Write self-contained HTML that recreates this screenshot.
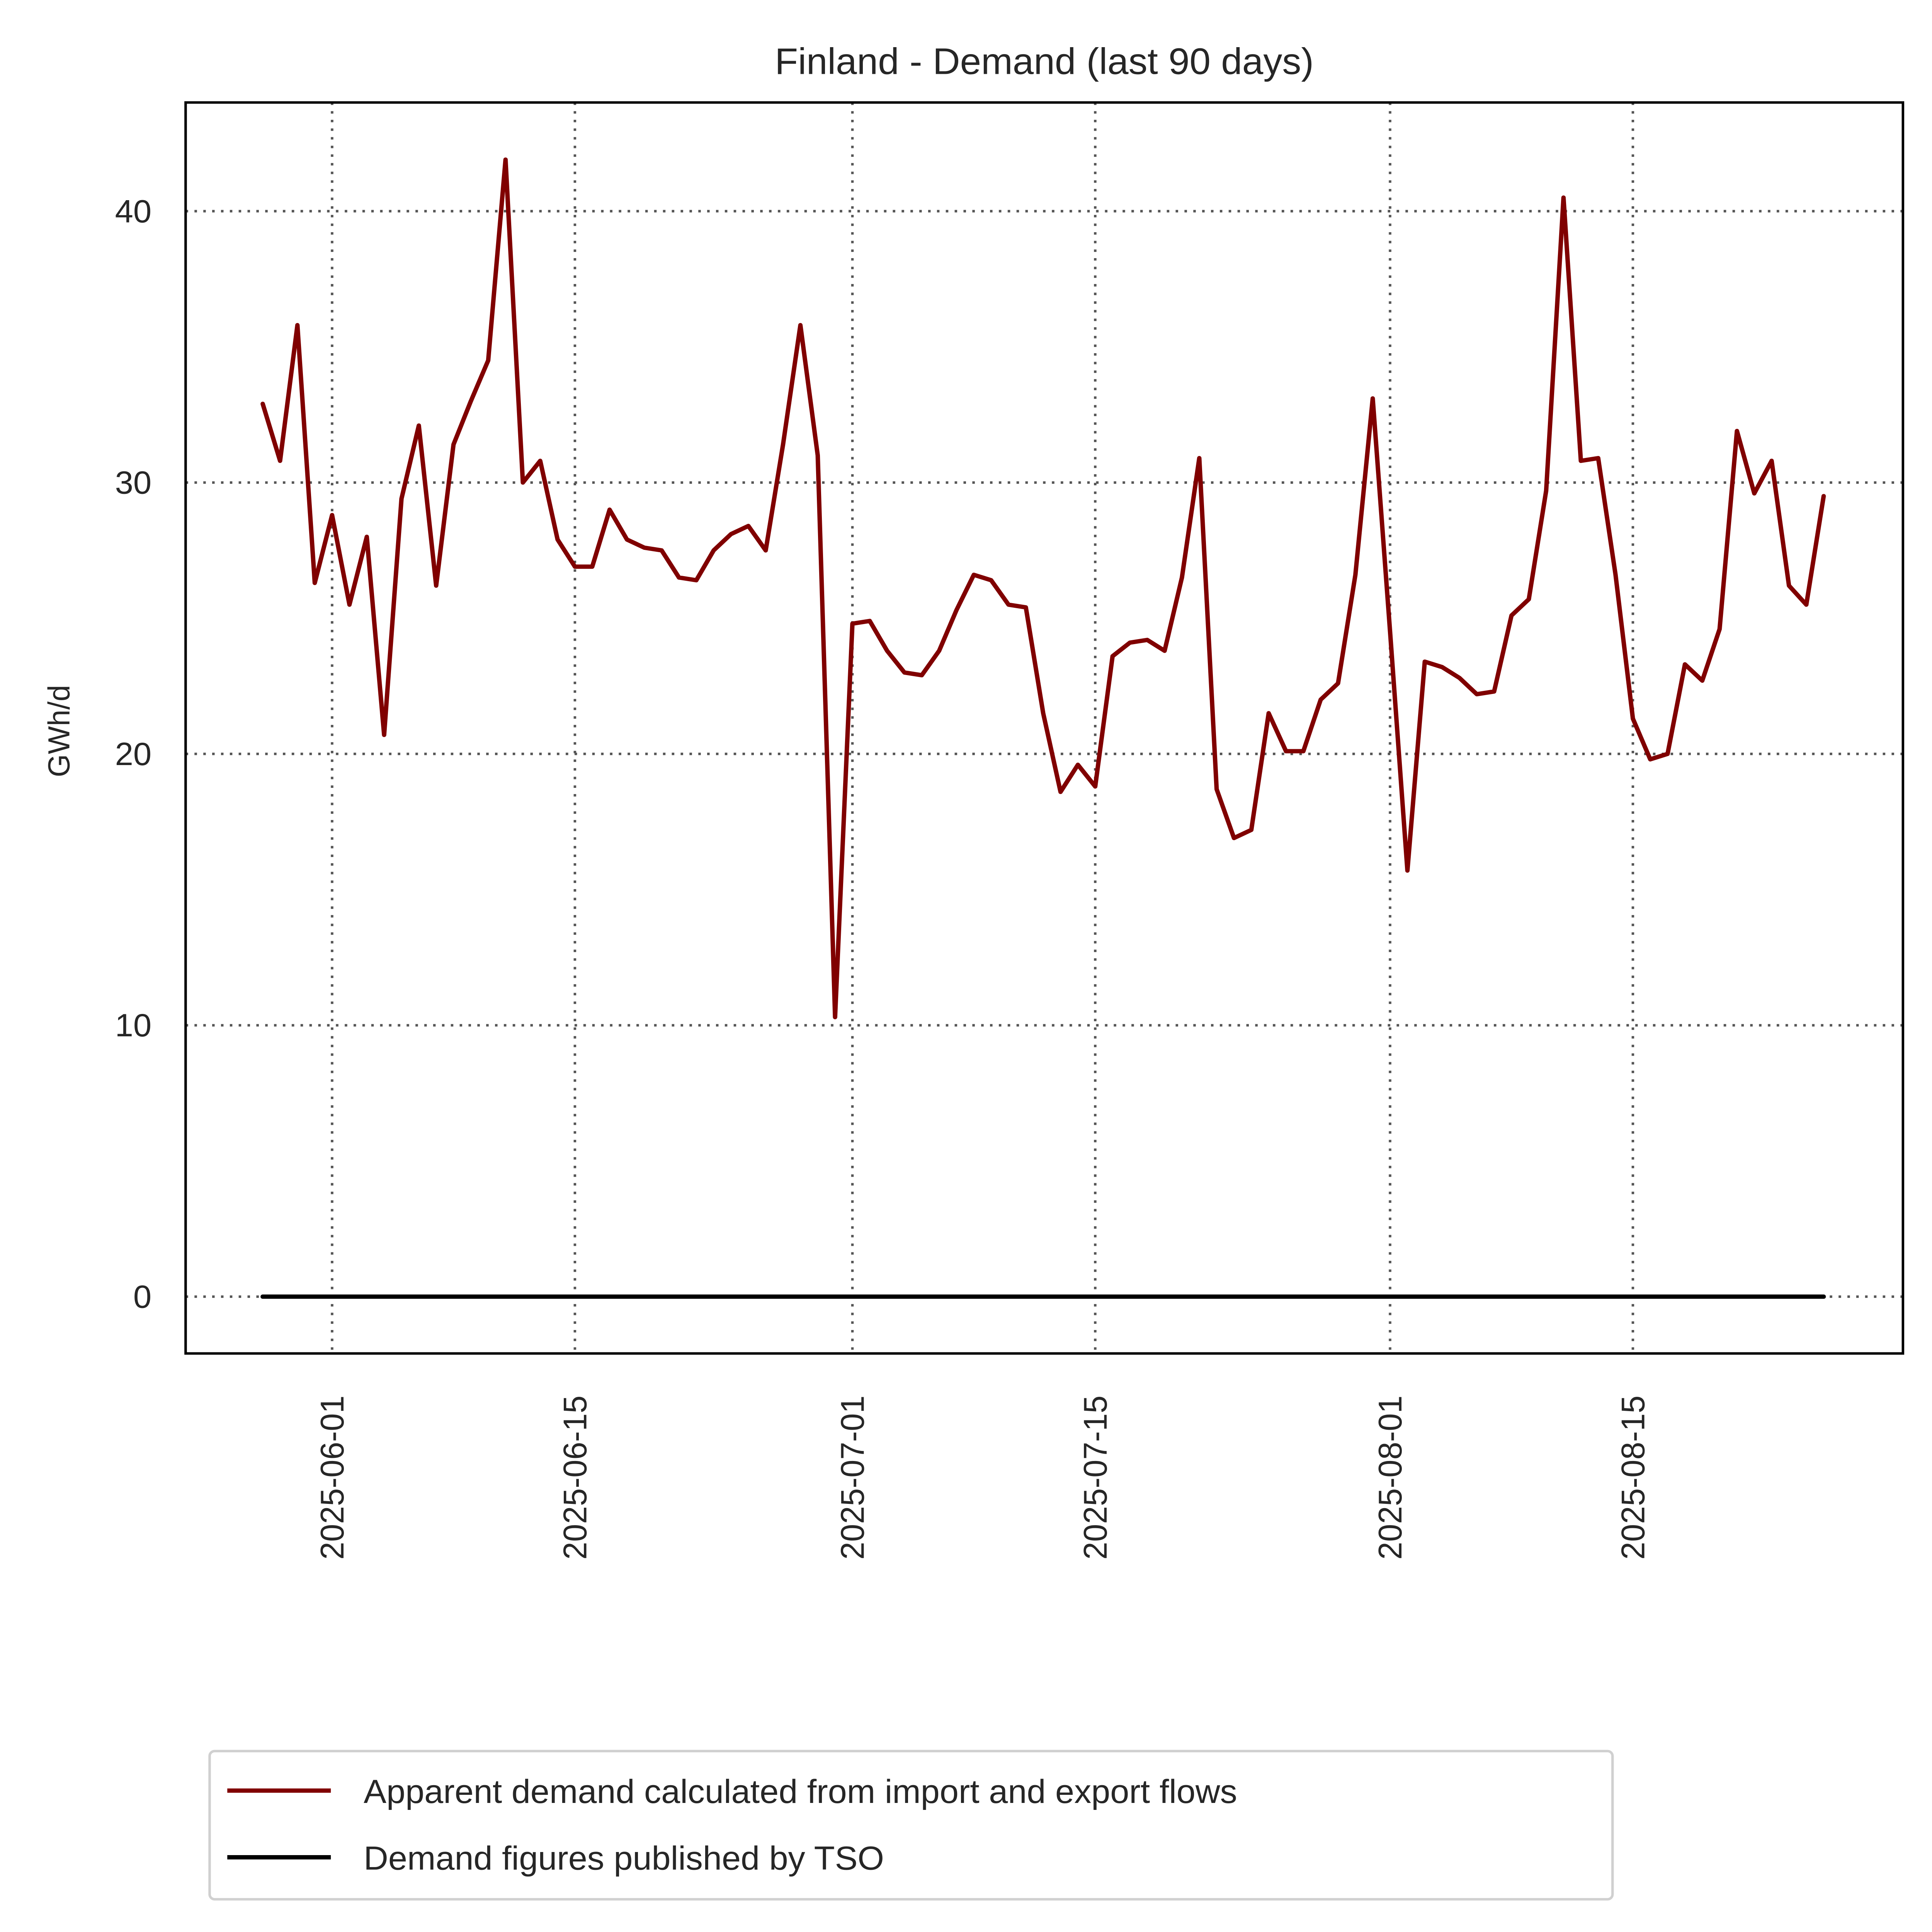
<!DOCTYPE html>
<html><head><meta charset="utf-8"><style>
html,body{margin:0;padding:0;background:#fff;width:100%;height:100%;overflow:hidden}
svg{display:block;position:fixed;left:0;top:0;width:100vw;height:100vh}
text{font-family:"Liberation Sans","DejaVu Sans",sans-serif;fill:#262626}
</style></head><body>
<svg id="chart" viewBox="0 0 1530 1564.5" preserveAspectRatio="none" xmlns="http://www.w3.org/2000/svg">
<rect x="0" y="0" width="1530" height="1565" fill="#fff"/>
<text x="827" y="60" font-size="30" text-anchor="middle">Finland - Demand (last 90 days)</text>
<g id="grid"></g>
<g id="series"></g>
<rect x="147" y="83" width="1360" height="1013" fill="none" stroke="#000" stroke-width="2"/>
<g id="yticks"></g>
<g id="xticks"></g>
<text transform="translate(55,592) rotate(-90)" font-size="24" text-anchor="middle">GWh/d</text>
<g>
<rect x="166" y="1418" width="1111" height="120" rx="4" fill="#fff" stroke="#d0d0d0" stroke-width="2"/>
<line x1="180" y1="1450" x2="262" y2="1450" stroke="#800000" stroke-width="3.5"/>
<text x="288" y="1460" font-size="27">Apparent demand calculated from import and export flows</text>
<line x1="180" y1="1504" x2="262" y2="1504" stroke="#000" stroke-width="3.5"/>
<text x="288" y="1514" font-size="27">Demand figures published by TSO</text>
</g>
</svg>
<script>
const apparentDemand = [32.9,30.8,35.8,26.3,28.8,25.5,28.0,20.7,29.4,32.1,26.2,31.4,33.0,34.5,41.9,30.0,30.8,27.9,26.9,26.9,29.0,27.9,27.6,27.5,26.5,26.4,27.5,28.1,28.4,27.5,31.4,35.8,31.0,10.3,24.8,24.9,23.8,23.0,22.9,23.8,25.3,26.6,26.4,25.5,25.4,21.5,18.6,19.6,18.8,23.6,24.1,24.2,23.8,26.5,30.9,18.7,16.9,17.2,21.5,20.1,20.1,22.0,22.6,26.6,33.1,24.5,15.7,23.4,23.2,22.8,22.2,22.3,25.1,25.7,29.7,40.5,30.8,30.9,26.6,21.3,19.8,20.0,23.3,22.7,24.6,31.9,29.6,30.8,26.2,25.5,29.5];
const tsoDemand = apparentDemand.map(()=>0);
const startDayOffset = -4;
const yTickValues = [0,10,20,30,40];
const xTickLabels = ["2025-06-01","2025-06-15","2025-07-01","2025-07-15","2025-08-01","2025-08-15"];
const xTickDays = [0,14,30,44,61,75];

const NS="http://www.w3.org/2000/svg";
const yScale = v => 1050 - v*21.975;
const xScale = d => 263 + d*13.735;
function mk(tag,attrs,parent){const e=document.createElementNS(NS,tag);for(const k in attrs)e.setAttribute(k,attrs[k]);parent.appendChild(e);return e;}
const grid=document.getElementById('grid'), yt=document.getElementById('yticks'), xt=document.getElementById('xticks'), ser=document.getElementById('series');
yTickValues.forEach(v=>{
  const y=yScale(v);
  const g=mk('line',{x1:147,x2:1507,y1:y,y2:y,stroke:'#555','stroke-width':2,'stroke-dasharray':'2 5'},grid);
  
  
  const t=mk('text',{x:120,y:y+9,'font-size':26,'text-anchor':'end'},yt);
  t.textContent=v;
  
  
});
xTickDays.forEach((d,i)=>{
  const x=xScale(d);
  const g=mk('line',{x1:x,x2:x,y1:83,y2:1096,stroke:'#555','stroke-width':2,'stroke-dasharray':'2 5'},grid);
  
  
  const t=mk('text',{transform:`translate(${x+9},1130) rotate(-90)`,'font-size':26,'text-anchor':'end'},xt);
  t.textContent=xTickLabels[i];
  
  
});
function pts(arr){return arr.map((v,i)=>xScale(startDayOffset+i).toFixed(2)+','+yScale(v).toFixed(2)).join(' ');}
const l1=mk('polyline',{points:pts(apparentDemand),fill:'none',stroke:'#800000','stroke-width':3.5,'stroke-linejoin':'round','stroke-linecap':'round'},ser);


const l2=mk('polyline',{points:pts(tsoDemand),fill:'none',stroke:'#000','stroke-width':3.5,'stroke-linecap':'round'},ser);


</script>
</body></html>
